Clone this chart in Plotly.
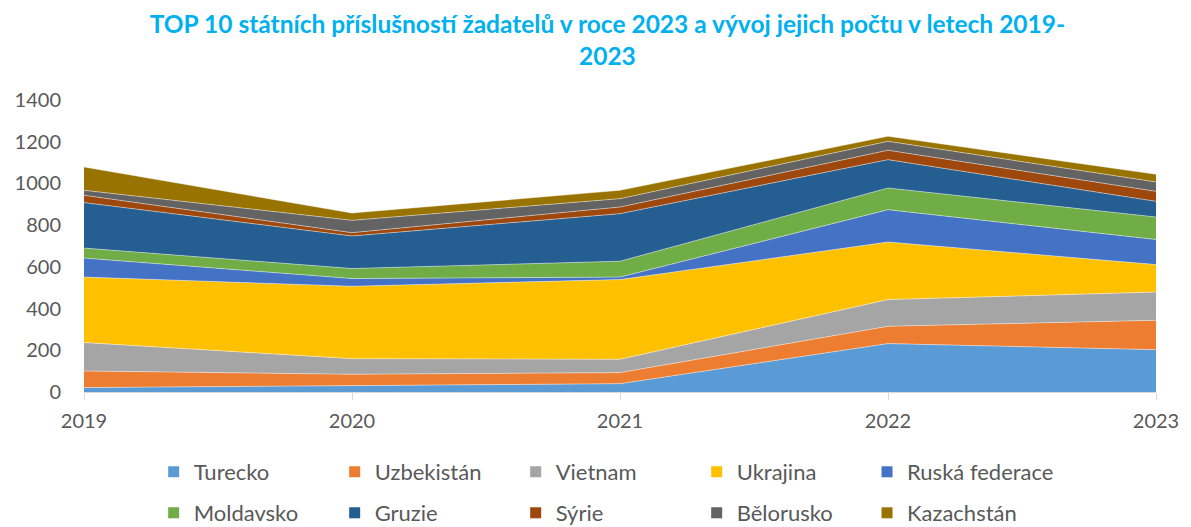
import plotly.graph_objects as go

years = [2019, 2020, 2021, 2022, 2023]
countries = ["Turecko", "Uzbekistán", "Vietnam", "Ukrajina", "Ruská federace",
             "Moldavsko", "Gruzie", "Sýrie", "Bělorusko", "Kazachstán"]
turecko = [21, 29, 40, 232, 203]
uzbekistan = [80, 56, 53, 83, 141]
vietnam = [136, 75, 64, 128, 135]
ukrajina = [314, 347, 382, 276, 132]
ruska = [91, 37, 12, 155, 120]
moldavsko = [48, 48, 76, 104, 108]
gruzie = [218, 156, 228, 136, 75]
syrie = [35, 16, 32, 45, 48]
belorusko = [24, 59, 40, 43, 45]
kazachstan = [112, 35, 40, 24, 37]
colors = ["#5B9BD5", "#ED7D31", "#A5A5A5", "#FFC000", "#4472C4",
          "#70AD47", "#255E91", "#9E480E", "#636363", "#997300"]
series = [turecko, uzbekistan, vietnam, ukrajina, ruska,
          moldavsko, gruzie, syrie, belorusko, kazachstan]
yticks = [0, 200, 400, 600, 800, 1000, 1200, 1400]

FONT = "Lato"
fig = go.Figure()
for name, vals, col in zip(countries, series, colors):
    fig.add_trace(go.Scatter(
        x=years, y=vals, name=name, stackgroup="one", mode="lines",
        line=dict(width=0.8, color="rgba(255,255,255,0.55)"),
        fillcolor=col, showlegend=False, hoverinfo="x+y+name"))

# legend groups: first four columns with fixed entry width, last column separate
legend_of = ["legend", "legend", "legend", "legend", "legend3",
             "legend2", "legend2", "legend2", "legend2", "legend4"]
for name, col, lg in zip(countries, colors, legend_of):
    fig.add_trace(go.Scatter(
        x=[None], y=[None], name=name, mode="markers",
        marker=dict(symbol="square", size=11, color=col),
        legend=lg, showlegend=True))

base = dict(orientation="h", xanchor="left", yanchor="middle",
            xref="paper", yref="container", traceorder="normal",
            font=dict(family=FONT, size=22, color="#595959"),
            bgcolor="rgba(0,0,0,0)", itemclick=False, itemdoubleclick=False)
cols = dict(entrywidth=136, entrywidthmode="pixels")
x0 = 0.065
xlast = x0 + 4 * 180 / 1082
row1 = 1 - 472 / 527
row2 = 1 - 513 / 527

fig.update_layout(
    width=1191, height=527,
    margin=dict(l=84, r=25, t=100, b=135),
    paper_bgcolor="white", plot_bgcolor="white",
    title=dict(text="TOP 10 státních příslušností žadatelů v roce 2023 a vývoj jejich počtu v letech 2019-<br>2023",
               x=0.51, xanchor="center", y=1 - 33 / 527, yanchor="top",
               font=dict(family=FONT, size=24.5, color="#00B0F0", weight="bold")),
    xaxis=dict(range=[2019, 2023], tickvals=years, ticktext=[str(y) for y in years],
               showgrid=False, zeroline=False, showline=True, linecolor="#D9D9D9",
               ticks="outside", ticklen=7, tickcolor="#D9D9D9", ticklabelstandoff=4,
               tickfont=dict(family=FONT, size=20, color="#595959")),
    yaxis=dict(range=[0, 1400], tickvals=yticks, showgrid=False, zeroline=False,
               showline=False, ticks="outside", ticklen=18, tickcolor="rgba(0,0,0,0)",
               tickfont=dict(family=FONT, size=20, color="#595959")),
    legend=dict(x=x0, y=row1, **cols, **base),
    legend2=dict(x=x0, y=row2, **cols, **base),
    legend3=dict(x=xlast, y=row1, **base),
    legend4=dict(x=xlast, y=row2, **base),
    showlegend=True,
)
fig.write_html("out.html", post_script="document.body.style.margin='0';",
               config={"displayModeBar": False})
